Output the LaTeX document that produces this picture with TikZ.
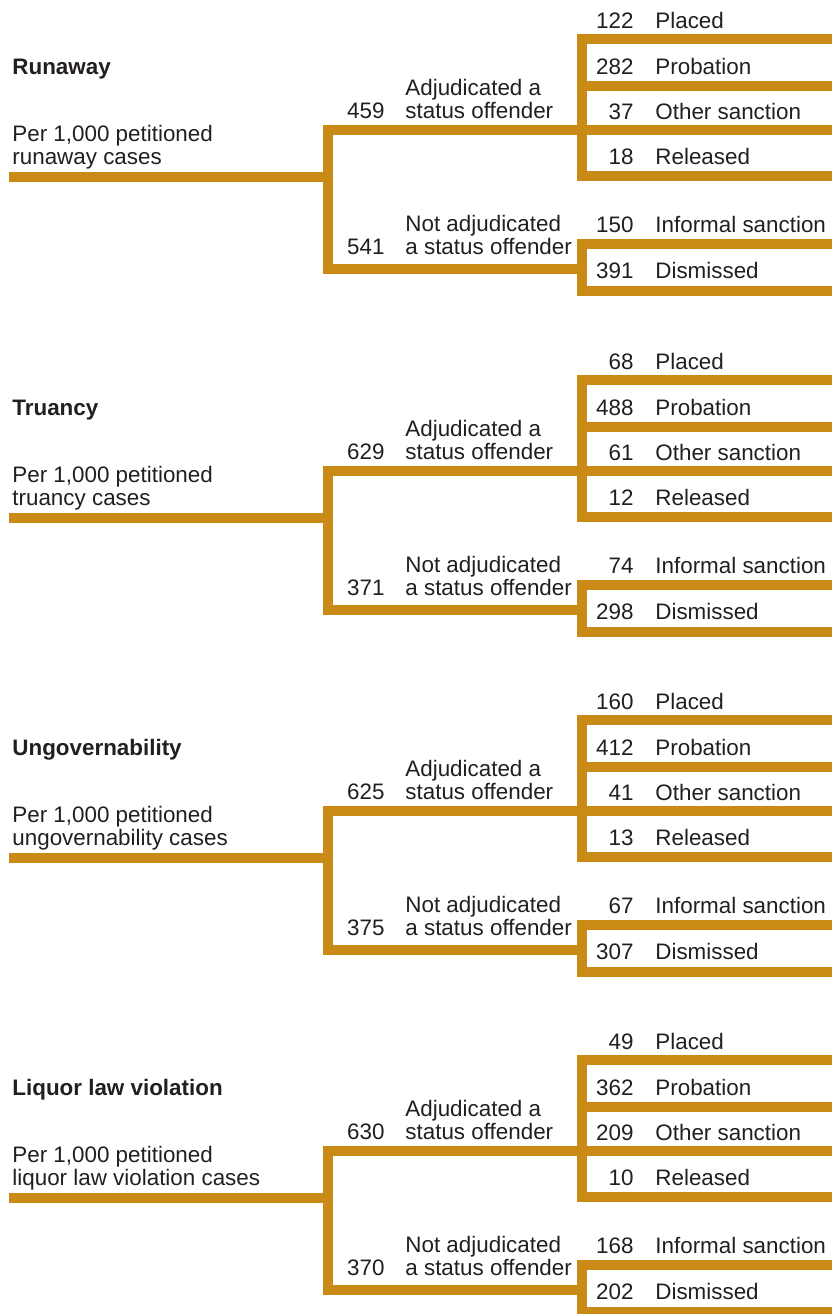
\documentclass[tikz,border=0pt]{standalone}
\usepackage{fontspec}
\setmainfont{Liberation Sans}
\definecolor{gold}{RGB}{201,138,22}
\definecolor{ink}{RGB}{35,31,32}
\tikzset{
  bar/.style={draw=gold, line width=5pt, line join=miter},
  lbl/.style={inner sep=0pt, text=ink, font=\fontsize{11.2}{11.2}\selectfont, align=left, anchor=base west},
  num/.style={inner sep=0pt, text=ink, font=\fontsize{11.2}{11.2}\selectfont, anchor=base east},
  ttl/.style={lbl, font=\fontsize{11.2}{11.2}\selectfont\bfseries},
}
% #1 prefix, #2 y offset, #3 title, #4 subject, #5 adj, #6 not adj, #7 placed, #8 probation, #9 other
\newcommand\drawblock[9]{%
  \begin{scope}[shift={(0,#2)}]
    \coordinate (#1-start) at (9,177);
    \coordinate (#1-j) at (328,177);
    \coordinate (#1-a) at (581.5,130);
    \coordinate (#1-n) at (581.5,268.5);
    \coordinate (#1-o1) at (832,39);
    \coordinate (#1-o2) at (832,86);
    \coordinate (#1-o3) at (832,130);
    \coordinate (#1-o4) at (832,176);
    \coordinate (#1-o5) at (832,244);
    \coordinate (#1-o6) at (832,291);
    \draw[bar] (#1-start) -- (#1-j);
    \draw[bar] (#1-a) -| (#1-j) |- (#1-n);
    \draw[bar] (#1-o1) -| (#1-a) |- (#1-o4);
    \draw[bar] (#1-a |- #1-o2) -- (#1-o2);
    \draw[bar] (#1-a) -- (#1-o3);
    \draw[bar] (#1-o5) -| (#1-n) |- (#1-o6);
    \node[ttl] (#1-title) at (12,74) {#3};
    \node[lbl] (#1-root) at (12,164) {Per 1,000 petitioned\\#4 cases};
    \node[num] (#1-an) at (385,118) {#5};
    \node[lbl] (#1-al) at (405,118) {Adjudicated a\\status offender};
    \node[num] (#1-nn) at (385,254) {#6};
    \node[lbl] (#1-nl) at (405,254) {Not adjudicated\\a status offender};
    \node[num] (#1-n1) at (634,28) {#7};
    \node[lbl] (#1-l1) at (655,28) {Placed};
    \node[num] (#1-n2) at (634,74) {#8};
    \node[lbl] (#1-l2) at (655,74) {Probation};
    \node[num] (#1-n3) at (634,119) {#9};
    \node[lbl] (#1-l3) at (655,119) {Other sanction};
    \blockrest{#1}%
}
\newcommand\blockrest[4]{%
    \node[num] (#1-n4) at (634,164) {#2};
    \node[lbl] (#1-l4) at (655,164) {Released};
    \node[num] (#1-n5) at (634,232) {#3};
    \node[lbl] (#1-l5) at (655,232) {Informal sanction};
    \node[num] (#1-n6) at (634,278) {#4};
    \node[lbl] (#1-l6) at (655,278) {Dismissed};
  \end{scope}%
}
\begin{document}
\begin{tikzpicture}[x=0.5pt,y=-0.5pt]
  \useasboundingbox (0,0) rectangle (832,1314);
  \clip (0,0) rectangle (832,1314);
  \fill[white] (0,0) rectangle (832,1314);
  \drawblock{r}{0}{Runaway}{runaway}{459}{541}{122}{282}{37}{18}{150}{391}
  \drawblock{t}{341}{Truancy}{truancy}{629}{371}{68}{488}{61}{12}{74}{298}
  \drawblock{u}{681}{Ungovernability}{ungovernability}{625}{375}{160}{412}{41}{13}{67}{307}
  \drawblock{l}{1021}{Liquor law violation}{liquor law violation}{630}{370}{49}{362}{209}{10}{168}{202}
\end{tikzpicture}
\end{document}
